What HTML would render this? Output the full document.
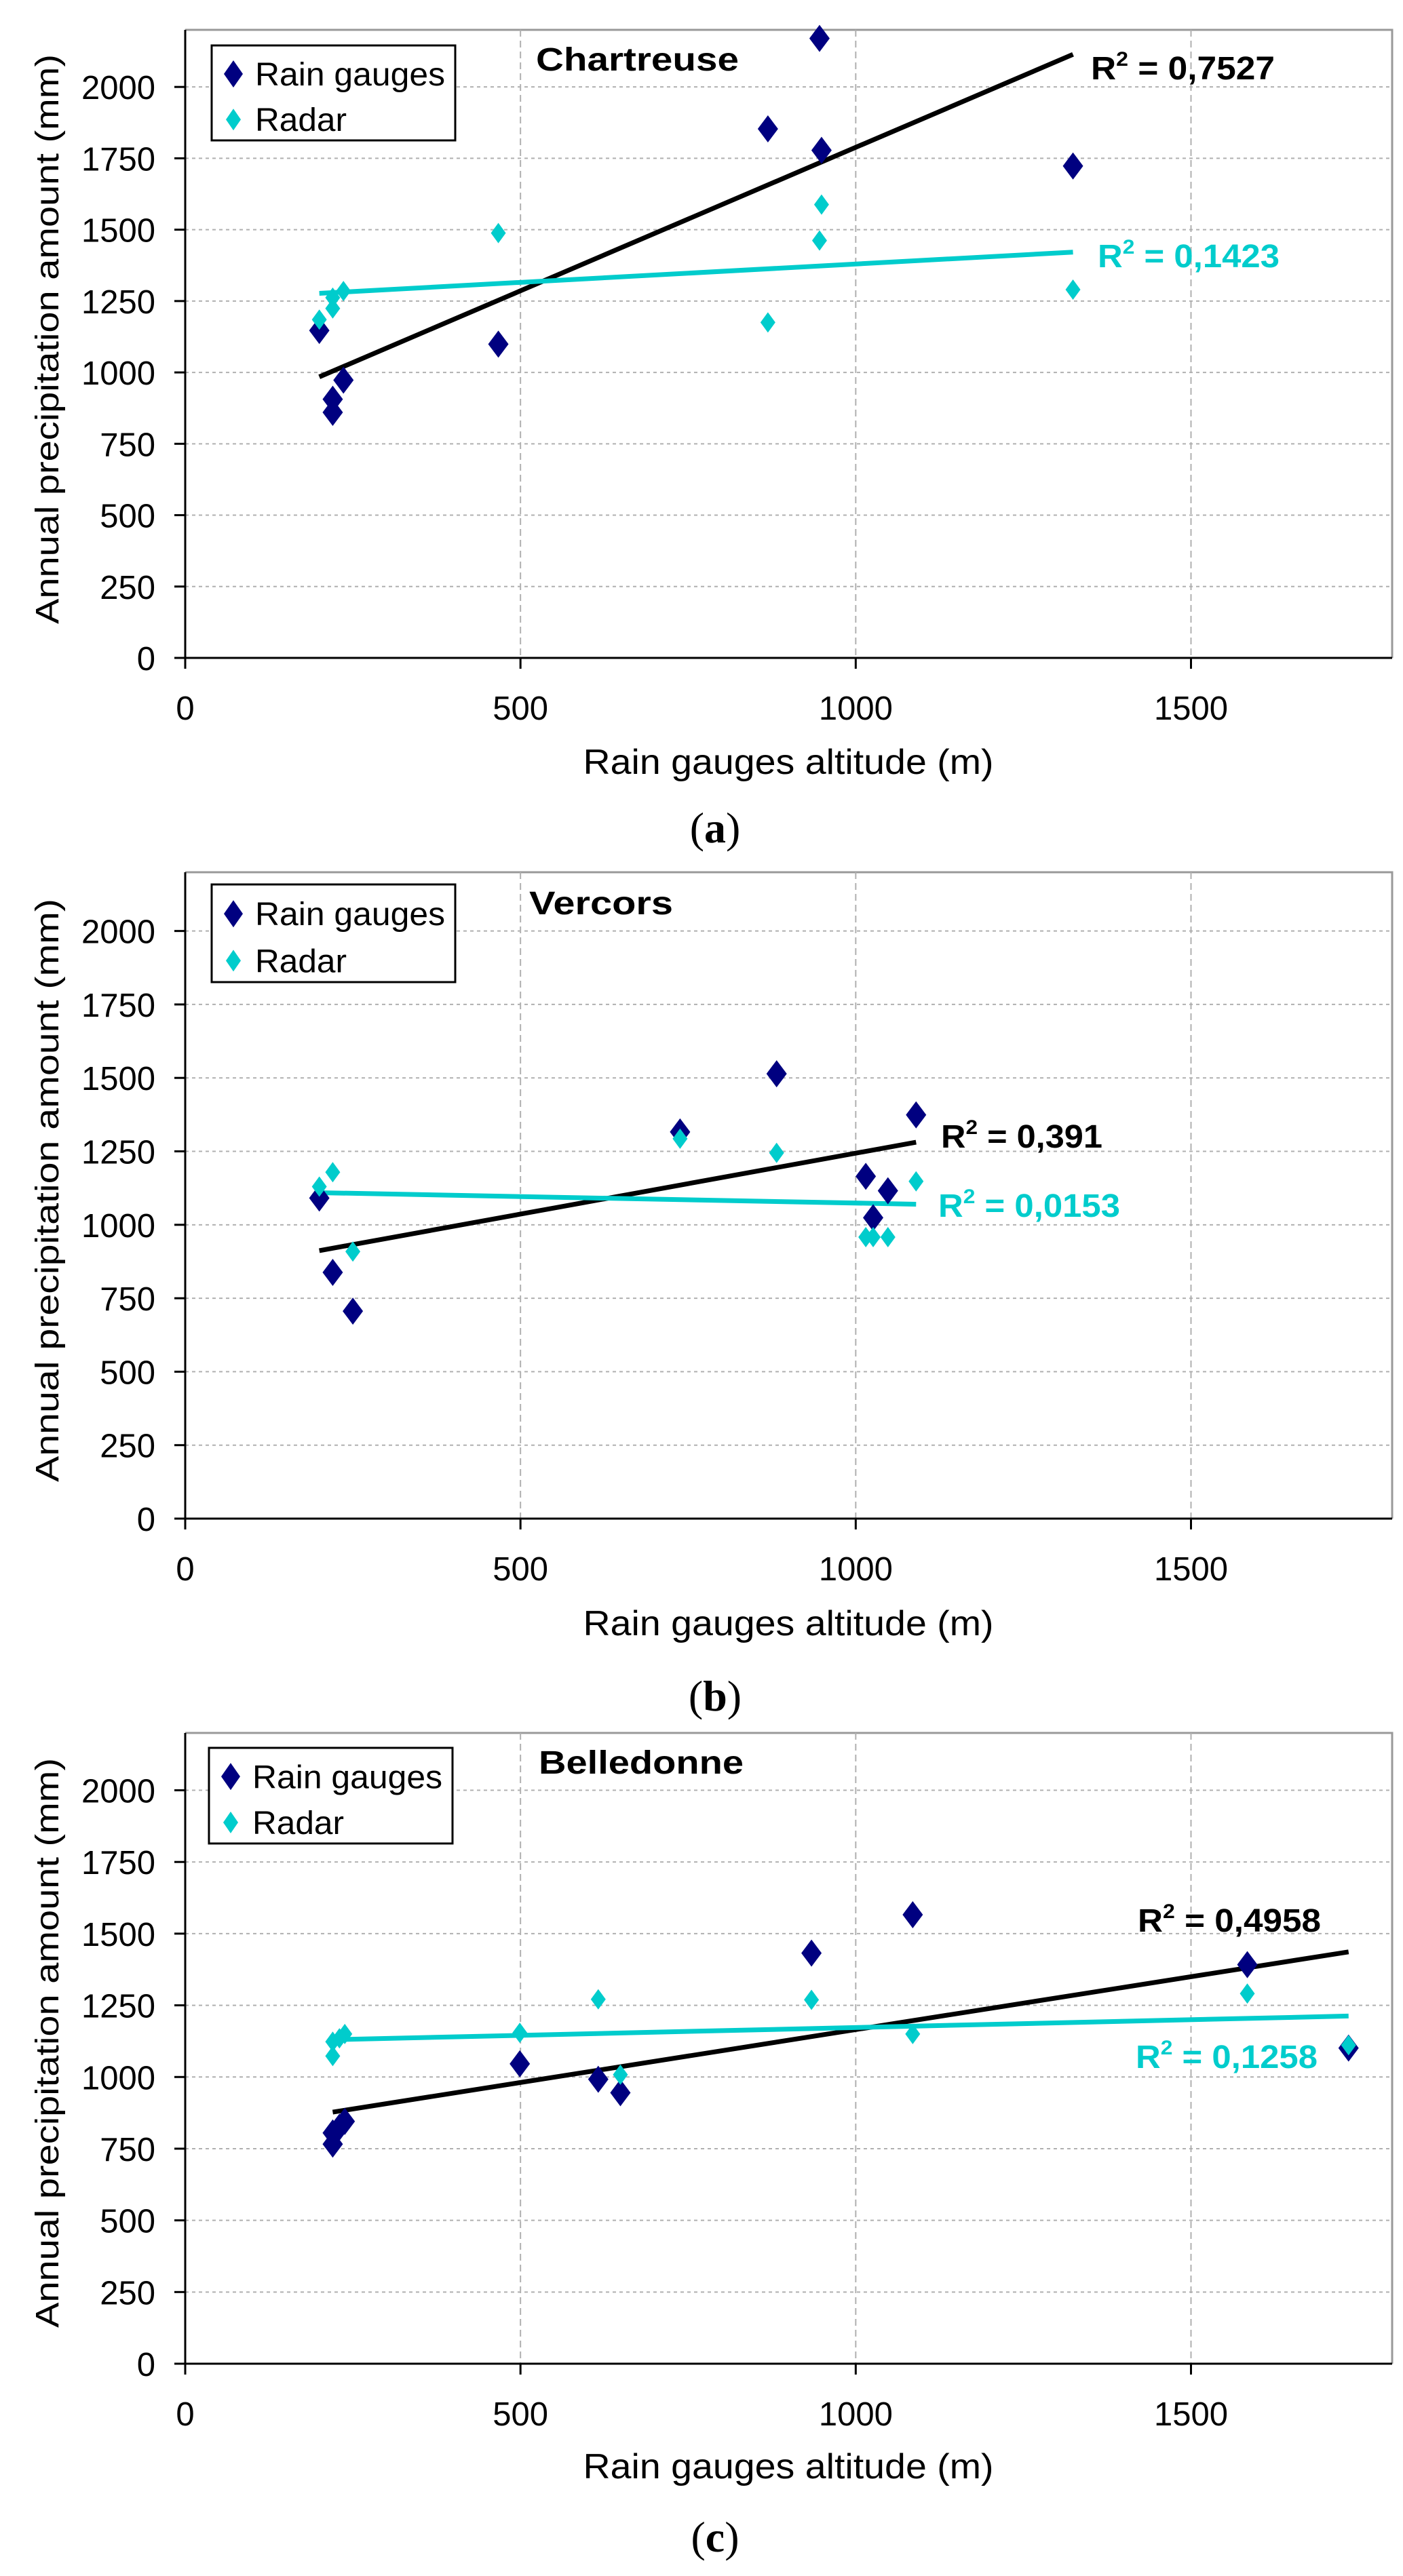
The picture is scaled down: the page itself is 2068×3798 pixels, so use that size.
<!DOCTYPE html>
<html><head><meta charset="utf-8"><style>html,body{margin:0;padding:0;background:#fff}svg{display:block}</style></head>
<body>
<svg id="fig" width="2068" height="3798" viewBox="0 0 2068 3798" xmlns="http://www.w3.org/2000/svg" font-family="'Liberation Sans', Arial, sans-serif"></svg>
<script>
const xTicks = [0, 500, 1000, 1500];
const yTicks = [0, 250, 500, 750, 1000, 1250, 1500, 1750, 2000];

const aTitle = "Chartreuse";
const aGaugeX = [200, 220, 220, 236, 467, 869, 946, 949, 1324];
const aGaugeY = [1147, 906, 860, 973, 1099, 1853, 2170, 1778, 1723];
const aRadarX = [200, 220, 220, 236, 467, 869, 946, 949, 1324];
const aRadarY = [1185, 1224, 1262, 1285, 1488, 1175, 1462, 1588, 1290];
const aR2 = ["0,7527", "0,1423"];

const bTitle = "Vercors";
const bGaugeX = [200, 220, 250, 738, 882, 1015, 1026, 1048, 1090];
const bGaugeY = [1091, 838, 706, 1316, 1514, 1165, 1024, 1116, 1374];
const bRadarX = [200, 220, 250, 738, 882, 1015, 1026, 1048, 1090];
const bRadarY = [1130, 1179, 909, 1293, 1245, 958, 958, 958, 1148];
const bR2 = ["0,391", "0,0153"];

const cTitle = "Belledonne";
const cGaugeX = [220, 220, 230, 238, 499, 616, 649, 934, 1085, 1584, 1735];
const cGaugeY = [766, 805, 825, 845, 1046, 992, 945, 1432, 1566, 1392, 1101];
const cRadarX = [220, 220, 230, 238, 499, 616, 649, 934, 1085, 1584, 1735];
const cRadarY = [1073, 1123, 1135, 1150, 1154, 1271, 1008, 1269, 1150, 1291, 1111];
const cR2 = ["0,4958", "0,1258"];

const NS = "http://www.w3.org/2000/svg";
const svg = document.getElementById('fig');
function mk(tag, attrs, parent, text) {
  const e = document.createElementNS(NS, tag);
  for (const k in attrs) e.setAttribute(k, attrs[k]);
  if (text !== undefined) e.textContent = text;
  (parent || svg).appendChild(e);
  return e;
}
function regress(xs, ys) {
  const n = xs.length;
  let mx = 0, my = 0;
  for (let i = 0; i < n; i++) { mx += xs[i]; my += ys[i]; }
  mx /= n; my /= n;
  let sxy = 0, sxx = 0;
  for (let i = 0; i < n; i++) { sxy += (xs[i]-mx)*(ys[i]-my); sxx += (xs[i]-mx)*(xs[i]-mx); }
  const m = sxy / sxx;
  return { m: m, b: my - m*mx };
}
function diamond(cx, cy, hw, hh) {
  return `M${cx},${cy-hh} L${cx+hw},${cy} L${cx},${cy+hh} L${cx-hw},${cy} Z`;
}

function drawChart(L, title, gx, gy, rx, ry, r2) {
  const g = mk('g', {});
  
  
  const X0 = 273, X1 = 2052;
  const sx = v => X0 + v * (X1 - X0) / 1800;
  const sy = v => L.y0 - v * (L.y0 - L.top) / 2200;

  const fr = mk('path', {d:`M${X0},${L.top} L${X1},${L.top} L${X1},${L.y0}`, fill:'none', stroke:'#999', 'stroke-width':3}, g);
  
  

  yTicks.forEach(t => {
    if (t === 0) return;
    const l = mk('line', {x1:X0, x2:X1, y1:sy(t), y2:sy(t), stroke:'#b0b0b0', 'stroke-width':2, 'stroke-dasharray':'5,5'}, g);
    
    
  });
  xTicks.forEach(t => {
    if (t === 0) return;
    const l = mk('line', {x1:sx(t), x2:sx(t), y1:L.top, y2:L.y0, stroke:'#b0b0b0', 'stroke-width':2, 'stroke-dasharray':'10,6'}, g);
    
    
  });

  const ax = mk('line', {x1:X0, x2:X1, y1:L.y0, y2:L.y0, stroke:'#000', 'stroke-width':3}, g);
  
  
  const ay = mk('line', {x1:X0, x2:X0, y1:L.top, y2:L.y0, stroke:'#000', 'stroke-width':3}, g);
  
  

  yTicks.forEach(t => {
    mk('line', {x1:X0-16, x2:X0, y1:sy(t), y2:sy(t), stroke:'#000', 'stroke-width':3}, g);
    const tx = mk('text', {x:229, y:sy(t)+18, 'text-anchor':'end', 'font-size':49, fill:'#000'}, g, String(t));
    
    
  });
  xTicks.forEach(t => {
    mk('line', {x1:sx(t), x2:sx(t), y1:L.y0, y2:L.y0+16, stroke:'#000', 'stroke-width':3}, g);
    const tx = mk('text', {x:sx(t), y:L.y0+91, 'text-anchor':'middle', 'font-size':49, fill:'#000'}, g, String(t));
    
    
  });

  const sets = [[gx, gy, '#000000', '#000080', 15, 20, r2[0], L.r2a], [rx, ry, '#00CCCC', '#00CCCC', 11, 15, r2[1], L.r2b]];
  sets.forEach((s, si) => {
    const xs = s[0], ys = s[1];
    const fit = regress(xs, ys);
    const xmin = Math.min(...xs), xmax = Math.max(...xs);
    const tl = mk('line', {x1:sx(xmin), y1:sy(fit.m*xmin+fit.b), x2:sx(xmax), y2:sy(fit.m*xmax+fit.b), stroke:s[2], 'stroke-width':7}, g);
    
    
  });
  sets.forEach((s, si) => {
    for (let i = 0; i < s[0].length; i++) {
      const p = mk('path', {d:diamond(sx(s[0][i]), sy(s[1][i]), s[4], s[5]), fill:s[3]}, g);
      
      
    }
  });
  sets.forEach((s, si) => {
    const pos = s[7];
    const t = mk('text', {x:pos[0], y:pos[1], 'font-size':48, 'font-weight':'bold', fill:si===0?'#000':'#00CCCC', textLength:pos[2], lengthAdjust:'spacingAndGlyphs'}, g);
    
    
    mk('tspan', {}, t, 'R');
    mk('tspan', {dy:-20, 'font-size':30}, t, '2');
    mk('tspan', {dy:20}, t, ' = ' + s[6]);
  });

  const ti = mk('text', {x:L.titleX, y:L.titleY, 'font-size':48, 'font-weight':'bold', fill:'#000', textLength:L.titleW, lengthAdjust:'spacingAndGlyphs'}, g, title);
  
  

  const lg = mk('g', {}, g);
  
  
  mk('rect', {x:L.legX, y:L.legY, width:359, height:L.legH, fill:'#fff', stroke:'#000', 'stroke-width':3}, lg);
  const r1 = L.legY + L.legH*0.3, r2y = L.legY + L.legH*0.78;
  const e1 = mk('g', {}, lg);
  
  
  mk('path', {d:diamond(L.legX+32, r1, 14, 20), fill:'#000080'}, e1);
  mk('text', {x:L.legX+64, y:r1+17, 'font-size':48, fill:'#000', textLength:280, lengthAdjust:'spacingAndGlyphs'}, e1, 'Rain gauges');
  const e2 = mk('g', {}, lg);
  
  
  mk('path', {d:diamond(L.legX+32, r2y, 11, 16), fill:'#00CCCC'}, e2);
  mk('text', {x:L.legX+64, y:r2y+17, 'font-size':48, fill:'#000', textLength:135, lengthAdjust:'spacingAndGlyphs'}, e2, 'Radar');

  const xt = mk('text', {x:1162, y:L.xTitleY, 'text-anchor':'middle', 'font-size':52, fill:'#000', textLength:605, lengthAdjust:'spacingAndGlyphs'}, g, 'Rain gauges altitude (m)');
  
  
  const yt = mk('text', {x:0, y:0, transform:`translate(86,${L.yTitleC}) rotate(-90)`, 'text-anchor':'middle', 'font-size':48, fill:'#000', textLength:L.yTitleLen, lengthAdjust:'spacingAndGlyphs'}, g, 'Annual precipitation amount (mm)');
  
  

  const pl = mk('text', {x:1054, y:L.labY, 'text-anchor':'middle', 'font-size':64, fill:'#000', 'font-family':"'Liberation Serif', serif"}, g);
  
  
  mk('tspan', {}, pl, '(');
  mk('tspan', {'font-weight':'bold'}, pl, L.lab);
  mk('tspan', {}, pl, ')');
}

drawChart({y0:970, top:44, titleX:790, titleY:104, titleW:299, legX:312, legY:67, legH:140,
  r2a:[1608,117,271], r2b:[1618,394,268], xTitleY:1141, yTitleC:500, yTitleLen:840, labY:1242, lab:'a'},
  aTitle, aGaugeX, aGaugeY, aRadarX, aRadarY, aR2);
drawChart({y0:2239, top:1286, titleX:780, titleY:1348, titleW:212, legX:312, legY:1304, legH:144,
  r2a:[1387,1692,238], r2b:[1383,1794,268], xTitleY:2411, yTitleC:1755, yTitleLen:860, labY:2522, lab:'b'},
  bTitle, bGaugeX, bGaugeY, bRadarX, bRadarY, bR2);
drawChart({y0:3485, top:2555, titleX:794, titleY:2615, titleW:302, legX:308, legY:2577, legH:141,
  r2a:[1677,2848,270], r2b:[1674,3049,268], xTitleY:3654, yTitleC:3012, yTitleLen:840, labY:3762, lab:'c'},
  cTitle, cGaugeX, cGaugeY, cRadarX, cRadarY, cR2);
</script>
</body></html>
